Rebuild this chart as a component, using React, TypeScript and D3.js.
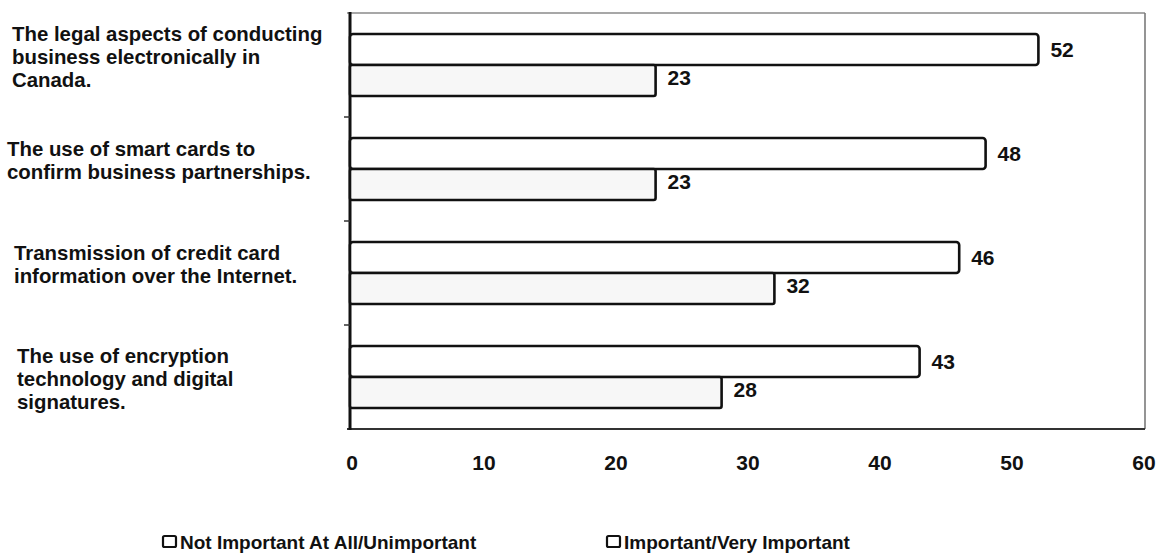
import React from "react";
import * as d3 from "d3";

const categories: string[][] = [
  ["The legal aspects of conducting", "business electronically in", "Canada."],
  ["The use of smart cards to", "confirm business partnerships."],
  ["Transmission of credit card", "information over the Internet."],
  ["The use of encryption", "technology and digital", "signatures."],
];
const notImportant: number[] = [52, 48, 46, 43];
const important: number[] = [23, 23, 32, 28];
const xTicks: number[] = [0, 10, 20, 30, 40, 50, 60];
const seriesNames: string[] = ["Not Important At All/Unimportant", "Important/Very Important"];

const W = 1163;
const H = 560;
const plot = { left: 352, right: 1144, top: 13, bottom: 429 };
const FONT = "'Liberation Sans', Arial, Helvetica, sans-serif";

// per-category label placement: left x and first baseline
const labelX = [12, 7, 14, 17];
const labelY = [41, 156, 260, 363];
const lineH = 23;

export default function App() {
  const x = d3.scaleLinear().domain([0, 60]).range([plot.left, plot.right]);
  const band = d3
    .scaleBand<number>()
    .domain(d3.range(categories.length))
    .range([plot.top, plot.bottom])
    .paddingInner(0)
    .paddingOuter(0);
  const bw = band.bandwidth();
  const pad = 21;
  const barH = (bw - 2 * pad) / 2;

  return (
    <svg
      width={W}
      height={H}
      style={{ position: "absolute", left: 0, top: 0, background: "#fff" }}
      fontFamily={FONT}
    >
      {/* frame */}
      <line x1={plot.left - 5} x2={plot.right + 1} y1={plot.top} y2={plot.top} stroke="#8a8a8a" strokeWidth={1.6} />
      <line x1={plot.right + 1} x2={plot.right + 1} y1={plot.top} y2={plot.bottom} stroke="#7a7a7a" strokeWidth={1.6} />
      <line x1={plot.left - 5} x2={plot.right + 1} y1={plot.bottom} y2={plot.bottom} stroke="#333" strokeWidth={2} />
      <line x1={plot.left - 2} x2={plot.left - 2} y1={plot.top - 1} y2={plot.bottom + 1} stroke="#111" strokeWidth={3} />

      {/* category ticks */}
      {d3.range(1, categories.length).map((i) => (
        <line
          key={"t" + i}
          x1={plot.left - 8}
          x2={plot.left - 2}
          y1={band(i)!}
          y2={band(i)!}
          stroke="#333"
          strokeWidth={1.5}
        />
      ))}

      {/* bars */}
      {categories.map((_, i) => {
        const y0 = band(i)! + pad;
        return (
          <g key={"b" + i}>
            <rect
              x={x(0) - 2}
              y={y0}
              width={x(notImportant[i]) - x(0) + 2}
              height={barH}
              rx={3}
              fill="#fff"
              stroke="#111"
              strokeWidth={2.6}
            />
            <text
              x={x(notImportant[i]) + 12}
              y={y0 + barH / 2}
              dy="0.35em"
              fontSize={21}
              fontWeight="bold"
              fill="#111"
            >
              {notImportant[i]}
            </text>
            <rect
              x={x(0) - 2}
              y={y0 + barH}
              width={x(important[i]) - x(0) + 2}
              height={barH}
              rx={2}
              fill="#f7f7f7"
              stroke="#111"
              strokeWidth={2.6}
            />
            <text
              x={x(important[i]) + 12}
              y={y0 + barH + barH / 2 - 3}
              dy="0.35em"
              fontSize={21}
              fontWeight="bold"
              fill="#111"
            >
              {important[i]}
            </text>
          </g>
        );
      })}

      {/* category labels */}
      {categories.map((lines, i) => (
        <text key={"c" + i} fontSize={20.4} fontWeight="bold" fill="#111">
          {lines.map((l, j) => (
            <tspan key={j} x={labelX[i]} y={labelY[i] + j * lineH}>
              {l}
            </tspan>
          ))}
        </text>
      ))}

      {/* x tick labels */}
      {xTicks.map((t) => (
        <text
          key={"x" + t}
          x={x(t)}
          y={470}
          textAnchor="middle"
          fontSize={21}
          fontWeight="bold"
          fill="#111"
        >
          {t}
        </text>
      ))}

      {/* legend */}
      {seriesNames.map((s, i) => {
        const lx = [163, 607][i];
        return (
          <g key={"l" + i}>
            <rect x={lx} y={536} width={13} height={11} rx={1.5} fill="#fff" stroke="#111" strokeWidth={2.2} />
            <text x={lx + 17} y={549} fontSize={19} fontWeight="bold" fill="#111">
              {s}
            </text>
          </g>
        );
      })}
    </svg>
  );
}
